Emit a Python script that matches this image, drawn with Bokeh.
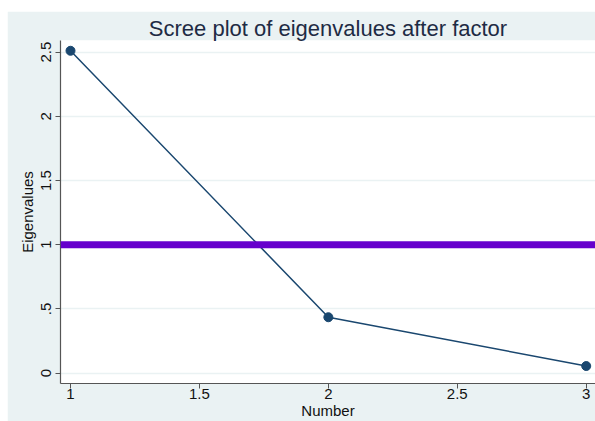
from bokeh.plotting import figure
from bokeh.models import Range1d, FixedTicker, Span
from bokeh.embed import file_html
from bokeh.resources import INLINE

numbers = [1, 2, 3]
eigenvalues = [2.51, 0.435, 0.055]
ref_level = 1.0
x_ticks = [1, 1.5, 2, 2.5, 3]
x_labels = ["1", "1.5", "2", "2.5", "3"]
y_ticks = [0, 0.5, 1, 1.5, 2, 2.5]
y_labels = ["0", ".5", "1", "1.5", "2", "2.5"]

BG = "#eaf2f3"
NAVY = "#1a476f"
FONT = "Liberation Sans"

p = figure(width=588, height=410, output_backend="svg", toolbar_location=None,
           x_range=Range1d(0.9612, 3.036), y_range=Range1d(-0.081, 2.59),
           title="Scree plot of eigenvalues after factor",
           min_border_left=53, min_border_right=0, min_border_top=29, min_border_bottom=38)
p.margin = (11, 0, 0, 7)
p.background_fill_color = "white"
p.border_fill_color = BG
p.outline_line_color = None

p.title.align = "center"
p.title.text_font = FONT
p.title.text_font_style = "normal"
p.title.text_font_size = "22px"
p.title.text_color = "#1e2b44"
p.title.offset = 0
p.title.standoff = 0

# gridlines
p.xgrid.visible = False
p.ygrid.ticker = FixedTicker(ticks=y_ticks)
p.ygrid.grid_line_color = BG
p.ygrid.grid_line_width = 1.5

for ax, ticks, labels in ((p.xaxis[0], x_ticks, x_labels), (p.yaxis[0], y_ticks, y_labels)):
    ax.ticker = FixedTicker(ticks=ticks)
    ax.major_label_overrides = {t: l for t, l in zip(ticks, labels)}
    ax.minor_tick_line_color = None
    ax.major_tick_in = 0
    ax.major_tick_out = 5
    ax.axis_line_color = "#555555"
    ax.major_tick_line_color = "#555555"
    ax.axis_line_width = 1.2
    ax.major_label_text_font = FONT
    ax.major_label_text_font_size = "15px"
    ax.major_label_text_color = "#111111"
    ax.axis_label_text_font = FONT
    ax.axis_label_text_font_size = "15px"
    ax.axis_label_text_font_style = "normal"
    ax.axis_label_text_color = "#111111"

p.yaxis.major_label_orientation = "vertical"
p.yaxis.axis_label = "Eigenvalues"
p.yaxis.axis_label_standoff = 3
p.yaxis.major_label_standoff = 4
p.xaxis.axis_label = "Number"
p.xaxis.axis_label_standoff = 0
p.xaxis.major_label_standoff = 0

p.add_layout(Span(location=ref_level, dimension="width", line_color="#6600cc", line_width=7))

p.line(numbers, eigenvalues, line_color=NAVY, line_width=1.5)
p.scatter(numbers, eigenvalues, size=9, fill_color=NAVY, line_color=NAVY)

open("out.html", "w").write(file_html(p, INLINE))
